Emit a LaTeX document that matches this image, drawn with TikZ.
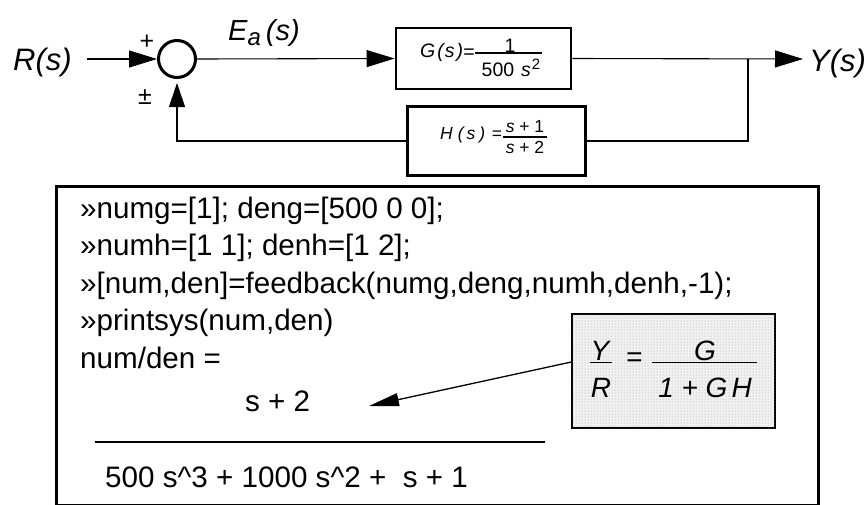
\documentclass[tikz,border=0pt]{standalone}
\usepackage{fontspec}
\setmainfont{Liberation Sans}
\usetikzlibrary{arrows.meta,patterns}

\begin{document}
\begin{tikzpicture}[x=1pt,y=-1pt,
  sig/.style={line width=1.1pt},
  tipA/.style={-{Triangle[length=28pt,width=17pt]}},
  tipB/.style={-{Triangle[length=24pt,width=16pt]}},
  blockbox/.style={draw,line width=2.8pt,inner sep=0pt},
  lbl/.style={inner sep=0pt,anchor=base west,font=\itshape\fontsize{31}{31}\selectfont},
  sgn/.style={inner sep=0pt,font=\fontsize{25}{25}\selectfont},
  gtxt/.style={inner sep=0pt,font=\fontsize{19.5}{19.5}\selectfont},
  htxt/.style={inner sep=0pt,font=\fontsize{17.5}{17.5}\selectfont},
  ftxt/.style={inner sep=0pt,anchor=base,font=\itshape\fontsize{28}{28}\selectfont},
  code/.style={inner sep=0pt,anchor=base west,font=\fontsize{29.6}{36}\selectfont},
  fracbar/.style={line width=1.4pt}
]
\useasboundingbox (0,0) rectangle (865,504);

% ---- block diagram ----
\node[lbl] (R) at (13,70) {R(s)};
\coordinate (rin) at (87,59);
\node[draw,circle,line width=3pt,minimum size=37pt,inner sep=0pt] (sum) at (177,59) {};
\node[sgn] (plus) at (147,42) {+};
\node[sgn] (pm) at (145,97) {±};
\node[inner sep=0pt,anchor=base west,font=\itshape\fontsize{29}{29}\selectfont] (Ea) at (228,40)
  {E\raisebox{-5pt}{\fontsize{24}{24}\selectfont a}\hspace{5pt}(s)};

\node[blockbox,minimum width=175pt,minimum height=61pt] (G) at (483.5,58.5) {};
\node[gtxt,anchor=base west] (gLhs) at (420,57) {\itshape G\hspace{2pt}(\hspace{1pt}s\hspace{2pt})};
\node[gtxt] (gEq) at (469,54) {=};
\draw[fracbar] (475,53) -- (542,53);
\node[gtxt,anchor=base] (gNum) at (510,52.5) {1};
\node[gtxt,anchor=base] (gDen) at (511,76.5)
  {500\hspace{7pt}\textit{s}\hspace{1pt}\raisebox{7pt}{\fontsize{15}{15}\selectfont 2}};

\node[blockbox,minimum width=178pt,minimum height=69pt] (H) at (496.5,141) {};
\node[htxt,anchor=base west] (hLhs) at (440,139) {\itshape H\hspace{5pt}(\hspace{3pt}s\hspace{4pt})};
\node[htxt] (hEq) at (497,135) {=};
\draw[fracbar] (503,137) -- (547,137);
\node[htxt,anchor=base] (hNum) at (525,132) {\textit{s} + 1};
\node[htxt,anchor=base] (hDen) at (525,153) {\textit{s} + 2};

\coordinate (br) at (748,59);
\coordinate (yend) at (803,59);
\node[lbl] (Y) at (809,71) {Y(s)};

\draw[sig,tipA] (rin) -- (sum.west);
\draw[sig,tipA] (sum.east) -- (G.west);
\draw[sig,tipA] (G.east) -- (yend);
\draw[sig] (br) |- (H.east);
\draw[sig,tipB,shorten >=4pt] (H.west) -| (sum.south);

% ---- MATLAB session panel ----
\draw[line width=2.6pt] (56.5,186.5) rectangle (818.5,505);

\node[code] (c1) at (80,218) {»numg=[1]; deng=[500 0 0];};
\node[code] (c2) at (80,255.5) {»numh=[1 1]; denh=[1 2];};
\node[code] (c3) at (80,293) {»[num,den]=feedback(numg,deng,numh,denh,-1);};
\node[code] (c4) at (80,330.5) {»printsys(num,den)};
\node[code] (c5) at (80,368) {num/den =};
\node[code,anchor=base] (s2) at (277.5,411) {s + 2};
\draw[line width=2.5pt] (95,442) -- (545,442);
\node[code] (c7) at (105,487) {500 s\textasciicircum 3 + 1000 s\textasciicircum 2 +~ s + 1};

% closed-loop relation in a stippled box
\node[draw,line width=1.4pt,fill=black!5,minimum width=203pt,minimum height=114pt,inner sep=0pt,
      postaction={pattern=dots,pattern color=black!40}] (rel) at (673.5,371) {};
\node[ftxt] (fY) at (600,360) {Y};
\draw[fracbar] (590,362.5) -- (612,362.5);
\node[ftxt] (fR) at (601,397) {R};
\node[ftxt,anchor=center] (fEq) at (634,360) {=};
\node[ftxt] (fG) at (705,360) {G};
\draw[fracbar] (652,362.5) -- (757,362.5);
\node[ftxt] (fD) at (705,397) {1 + G\hspace{4pt}H};

\coordinate (tip) at (369,406);
\draw[line width=1.3pt,-{Triangle[length=30pt,width=13pt]}] ([yshift=9pt]rel.west) -- (tip);
\end{tikzpicture}
\end{document}
